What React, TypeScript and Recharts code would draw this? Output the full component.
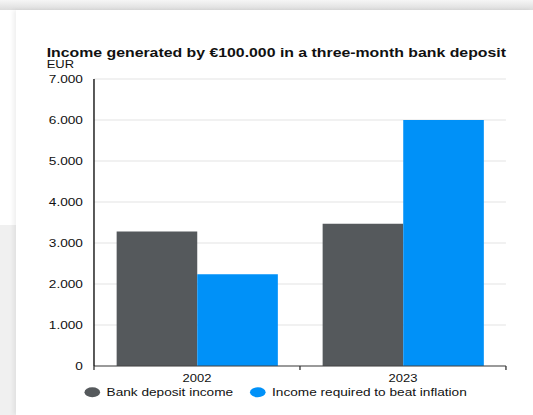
import React from 'react';
import { BarChart, Bar, XAxis, YAxis, CartesianGrid } from 'recharts';

const years = ['2002', '2023'];
const depositIncome = [3280, 3470];
const inflationIncome = [2240, 6000];
const yTicks = [0, 1000, 2000, 3000, 4000, 5000, 6000, 7000];
const seriesNames = ['Bank deposit income', 'Income required to beat inflation'];
const seriesColors = ['#55595c', '#0091f8'];

const title = 'Income generated by €100.000 in a three-month bank deposit';
const unit = 'EUR';

const data = years.map((year, i) => ({
  year,
  deposit: depositIncome[i],
  inflation: inflationIncome[i],
}));

// the reference image is stretched sideways, so draw narrow and scale in x
const STRETCH = 1.3;
const W = 410;
const H = 415;
const Y_AXIS_W = 72.3;
const MARGIN = { top: 79, right: 20.8, bottom: 29, left: 0 };
const HALF_BAND = (W - MARGIN.right - Y_AXIS_W) / years.length / 2;
const FONT = '"Liberation Sans", Arial, Helvetica, sans-serif';
const LEGEND_X = [71, 198.3];

const fmt = (v: number) => String(v).replace(/\B(?=(\d{3})+(?!\d))/g, '.');

// year label plus the small tick marks on the band edges
const YearTick = ({ x, y, payload, index }: any) => (
  <g>
    <line x1={x - HALF_BAND} x2={x - HALF_BAND} y1={y} y2={y + 4} stroke="#333" />
    {index === years.length - 1 && (
      <line x1={x + HALF_BAND} x2={x + HALF_BAND} y1={y} y2={y + 4} stroke="#333" />
    )}
    <text x={x} y={y + 16.2} textAnchor="middle" fontSize={10} fill="#111" fontFamily={FONT}>
      {payload.value}
    </text>
  </g>
);

export default function App() {
  return (
    <div
      style={{
        position: 'fixed',
        left: 0,
        top: 0,
        width: 533,
        height: 415,
        background: '#fff',
        overflow: 'hidden',
        fontFamily: FONT,
      }}
    >
      <div
        style={{
          position: 'absolute',
          left: 0,
          top: 0,
          width: 533,
          height: 10,
          background: 'linear-gradient(to bottom, #f6f6f6, #dcdcdc)',
        }}
      />
      <div style={{ position: 'absolute', left: 0, top: 225, width: 16, height: 190, background: '#f0f0f0' }} />
      <div
        style={{
          position: 'absolute',
          left: 16,
          top: 10,
          right: 0,
          bottom: 0,
          background: '#fff',
          boxShadow: '-3px 0 4px rgba(0,0,0,0.06)',
        }}
      />

      <div
        style={{
          position: 'absolute',
          left: 0,
          top: 0,
          width: W,
          height: H,
          transform: `scaleX(${STRETCH})`,
          transformOrigin: '0 0',
        }}
      >
        <BarChart width={W} height={H} data={data} margin={MARGIN} barCategoryGap="11%" barGap={0}>
          <CartesianGrid vertical={false} stroke="#e4e4e4" />
          <XAxis
            dataKey="year"
            height={20}
            axisLine={{ stroke: '#444' }}
            tickLine={false}
            tickSize={0}
            tickMargin={0}
            tick={<YearTick />}
          />
          <YAxis
            width={Y_AXIS_W}
            domain={[0, 7000]}
            ticks={yTicks}
            tickFormatter={fmt}
            axisLine={{ stroke: '#000' }}
            tickLine={false}
            tickSize={0}
            tickMargin={8.5}
            tick={{ fontSize: 10.5, fill: '#111', fontFamily: FONT }}
          />
          <Bar dataKey="deposit" name={seriesNames[0]} fill={seriesColors[0]} isAnimationActive={false} />
          <Bar dataKey="inflation" name={seriesNames[1]} fill={seriesColors[1]} isAnimationActive={false} />
        </BarChart>

        <svg
          width={W}
          height={H}
          style={{ position: 'absolute', left: 0, top: 0, pointerEvents: 'none' }}
          fontFamily={FONT}
        >
          <text x={35.9} y={57.5} fontSize={12.2} fontWeight="bold" fill="#111">
            {title}
          </text>
          <text x={35.9} y={68} fontSize={10} fill="#111">
            {unit}
          </text>
          {seriesNames.map((name, i) => (
            <g key={name}>
              <ellipse cx={LEGEND_X[i]} cy={392.3} rx={6} ry={5} fill={seriesColors[i]} />
              <text x={LEGEND_X[i] + 11} y={396.1} fontSize={10.5} fill="#111">
                {name}
              </text>
            </g>
          ))}
        </svg>
      </div>
    </div>
  );
}
